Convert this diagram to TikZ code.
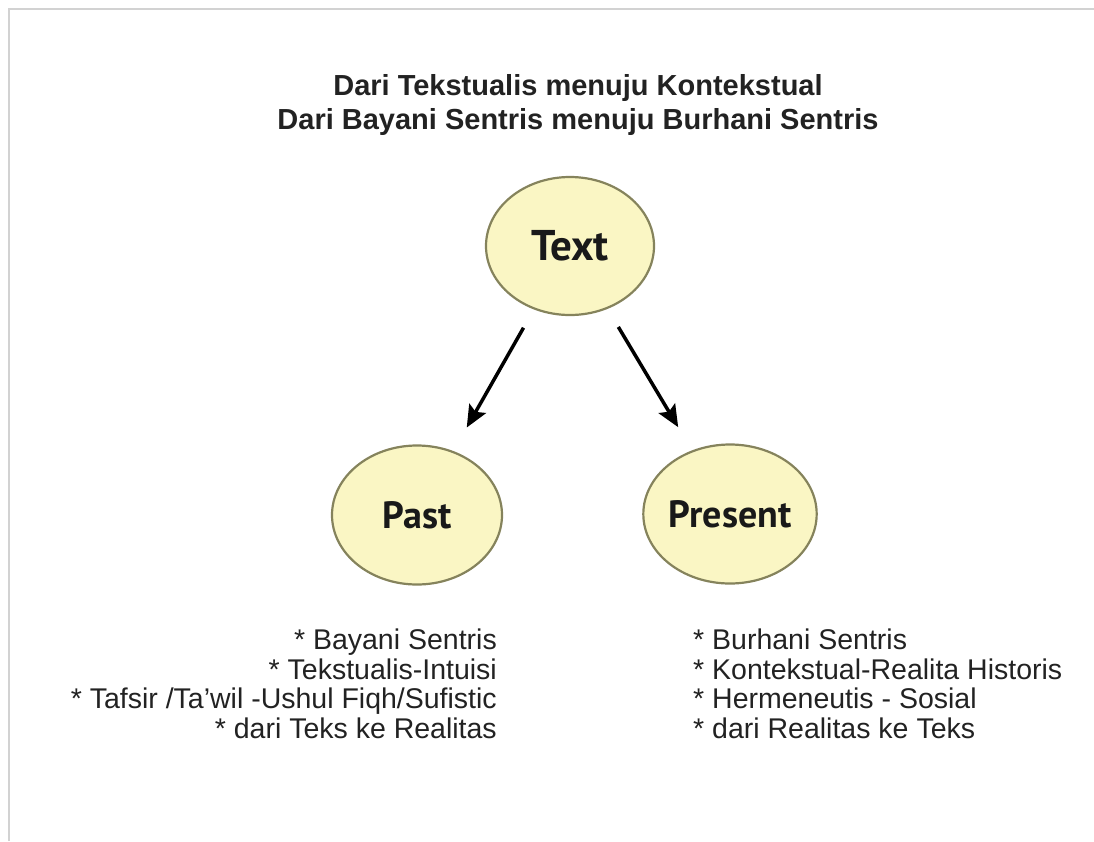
\documentclass[tikz,border=0pt]{standalone}
\usepackage{fontspec}
\setmainfont{Liberation Sans}
\newfontfamily\ovalfont{PT Sans}
\usetikzlibrary{arrows.meta,shapes.geometric}
\definecolor{ovalfill}{HTML}{FAF6C4}
\definecolor{ovaldraw}{HTML}{85835C}
\definecolor{inkgray}{HTML}{222222}
\definecolor{framegray}{HTML}{D2D2D2}

\begin{document}
\begin{tikzpicture}[
    x=1pt, y=-1pt,
    >={Stealth[length=22pt, width=19pt, inset=4pt]},
    oval/.style={ellipse, draw=ovaldraw, line width=2.2pt, fill=ovalfill, inner sep=0pt, minimum width=170pt, minimum height=139pt, font=\ovalfont\bfseries\fontsize{38}{38}\selectfont, text=black!90},
    heading/.style={align=center, font=\bfseries\fontsize{29}{34}\selectfont, text=inkgray, inner sep=0pt},
    listing/.style={font=\fontsize{28.5}{29.5}\selectfont, text=inkgray, inner sep=0pt},
    link/.style={->, line width=3.5pt, shorten <=21pt, shorten >=27pt}
]
\useasboundingbox (0,0) rectangle (1094,841);
\draw[framegray, line width=2pt] (8.5,841) -- (8.5,8.5) -- (1094,8.5);
\node[heading, anchor=north] (title) at (578,74) {Dari Tekstualis menuju Kontekstual\\Dari Bayani Sentris menuju Burhani Sentris};
\node[oval, minimum width=168pt, minimum height=138pt, font=\ovalfont\bfseries\fontsize{43}{43}\selectfont] (text) at (570,246) {Text};
\node[oval] (past) at (417,515) {Past};
\node[oval] (present) at (730,514) {Present};
\node[listing, align=right, anchor=north east] (pastlist) at (497,629) {* Bayani Sentris\\* Tekstualis-Intuisi\\* Tafsir /Ta’wil -Ushul Fiqh/Sufistic\\* dari Teks ke Realitas};
\node[listing, align=left, anchor=north west] (presentlist) at (693,629) {* Burhani Sentris\\* Kontekstual-Realita Historis\\* Hermeneutis - Sosial\\* dari Realitas ke Teks};
\draw[link] (text) -- (past);
\draw[link] (text) -- (present);
\end{tikzpicture}
\end{document}
